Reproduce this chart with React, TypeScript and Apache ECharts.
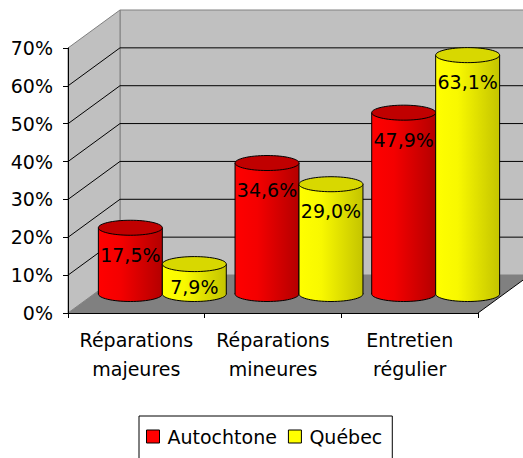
import React, { useEffect, useRef } from "react";
import * as echarts from "echarts";

const categories = ["Réparations\nmajeures", "Réparations\nmineures", "Entretien\nrégulier"];
const autochtone = [17.5, 34.6, 47.9];
const quebec = [7.9, 29.0, 63.1];
const gridTicks = [10, 20, 30, 40, 50, 60];
const yMax = 70;

const FONT = "DejaVu Sans";
const DX = 52;
const DY = -38;

function wallsRender(params: any, api: any) {
  const cs = params.coordSys;
  const x0 = cs.x;
  const x1 = cs.x + cs.width;
  const yb = api.coord([0, 0])[1];
  const yt = api.coord([0, yMax])[1];
  const children: any[] = [];
  children.push({
    type: "rect",
    shape: { x: x0 + DX, y: yt + DY, width: x1 - x0, height: yb - yt },
    style: { fill: "#C0C0C0", stroke: "#808080", lineWidth: 1 },
  });
  children.push({
    type: "polygon",
    shape: { points: [[x0, yb], [x0, yt], [x0 + DX, yt + DY], [x0 + DX, yb + DY]] },
    style: { fill: "#C0C0C0", stroke: "#808080", lineWidth: 1 },
  });
  children.push({
    type: "polygon",
    shape: { points: [[x0, yb], [x1, yb], [x1 + DX, yb + DY], [x0 + DX, yb + DY]] },
    style: { fill: "#808080" },
  });
  children.push({
    type: "line",
    shape: { x1: x1, y1: yb, x2: x1 + DX, y2: yb + DY },
    style: { stroke: "#000", lineWidth: 1 },
  });
  gridTicks.forEach((v) => {
    const y = api.coord([0, v])[1];
    children.push({
      type: "polyline",
      shape: { points: [[x0, y], [x0 + DX, y + DY], [x1 + DX, y + DY]] },
      style: { stroke: "#000", lineWidth: 1, fill: null },
    });
  });
  return { type: "group", children };
}

function makeCylRender(sign: number, light: string, mid: string, dark: string, topColor: string) {
  return function (params: any, api: any) {
    const cat = api.value(0);
    const v = api.value(1);
    const p = api.coord([cat, v]);
    const base = api.coord([cat, 0]);
    const band = api.size([1, 0])[0];
    const barW = band * 0.468;
    const rx = barW / 2;
    const ry = 7.5;
    const cx = p[0] + (sign * barW) / 2 + DX / 2;
    const top = p[1] + DY / 2;
    const bottom = base[1] + DY / 2;
    const mk = () =>
      new echarts.graphic.LinearGradient(0, 0, 1, 0, [
        { offset: 0, color: light },
        { offset: 0.35, color: mid },
        { offset: 1, color: dark },
      ]);
    const h = bottom - top;
    const labelY = top + Math.min(27, h * 0.75);
    const label = v.toFixed(1).replace(".", ",") + "%";
    return {
      type: "group",
      children: [
        {
          type: "ellipse",
          shape: { cx, cy: bottom, rx, ry },
          style: { fill: mk(), stroke: "#000", lineWidth: 1 },
        },
        {
          type: "rect",
          shape: { x: cx - rx, y: top, width: 2 * rx, height: h },
          style: { fill: mk() },
        },
        {
          type: "line",
          shape: { x1: cx - rx, y1: top, x2: cx - rx, y2: bottom },
          style: { stroke: "#000", lineWidth: 1 },
        },
        {
          type: "line",
          shape: { x1: cx + rx, y1: top, x2: cx + rx, y2: bottom },
          style: { stroke: "#000", lineWidth: 1 },
        },
        {
          type: "ellipse",
          shape: { cx, cy: top, rx, ry },
          style: { fill: topColor, stroke: "#000", lineWidth: 1 },
        },
        {
          type: "text",
          z2: 100,
          style: {
            x: cx,
            y: labelY,
            text: label,
            fill: "#000",
            font: `19px "${FONT}"`,
            align: "center",
            verticalAlign: "middle",
          },
        },
      ],
    };
  };
}

export default function App() {
  const ref = useRef<HTMLDivElement>(null);
  useEffect(() => {
    if (!ref.current) return;
    const chart = echarts.init(ref.current, undefined, { renderer: "svg" });
    chart.setOption({
      animation: false,
      backgroundColor: "#fff",
      grid: { left: 68, right: 45, top: 48, bottom: 145, containLabel: false },
      xAxis: {
        type: "category",
        data: categories,
        z: 5,
        axisLine: { show: true, lineStyle: { color: "#000", width: 1 } },
        axisTick: { show: true, length: 5, lineStyle: { color: "#000" } },
        axisLabel: {
          color: "#000",
          fontFamily: FONT,
          fontSize: 19,
          lineHeight: 29,
          margin: 12,
          interval: 0,
        },
        splitLine: { show: false },
      },
      yAxis: {
        type: "value",
        min: 0,
        max: yMax,
        interval: 10,
        z: 5,
        axisLine: { show: true, lineStyle: { color: "#000", width: 1 } },
        axisTick: { show: true, length: 5, lineStyle: { color: "#000" } },
        axisLabel: {
          color: "#000",
          fontFamily: FONT,
          fontSize: 19,
          margin: 15,
          formatter: "{value}%",
        },
        splitLine: { show: false },
      },
      legend: {
        data: ["Autochtone", "Québec"],
        left: 139,
        top: 416,
        orient: "horizontal",
        icon: "rect",
        itemWidth: 13,
        itemHeight: 13,
        itemGap: 11,
        selectedMode: false,
        borderColor: "#000",
        borderWidth: 1,
        padding: [11, 10, 14, 7],
        itemStyle: { borderColor: "#000", borderWidth: 1 },
        textStyle: { color: "#000", fontFamily: FONT, fontSize: 19, padding: [0, 0, 0, 3] },
      },
      series: [
        {
          type: "custom",
          name: "walls",
          z: 1,
          silent: true,
          data: [[0, 0]],
          renderItem: wallsRender,
        },
        {
          type: "custom",
          name: "Autochtone",
          z: 3,
          itemStyle: { color: "#FF0000" },
          data: autochtone.map((v, i) => [i, v]),
          renderItem: makeCylRender(-1, "#ff0000", "#f40000", "#b40000", "#c00000"),
        },
        {
          type: "custom",
          name: "Québec",
          z: 3,
          itemStyle: { color: "#FFFF00" },
          data: quebec.map((v, i) => [i, v]),
          renderItem: makeCylRender(1, "#ffff00", "#f8f800", "#c4c400", "#d8d800"),
        },
      ],
    });
    return () => chart.dispose();
  }, []);
  return (
    <div
      ref={ref}
      style={{ position: "fixed", left: 0, top: 0, width: 523, height: 458 }}
    />
  );
}
